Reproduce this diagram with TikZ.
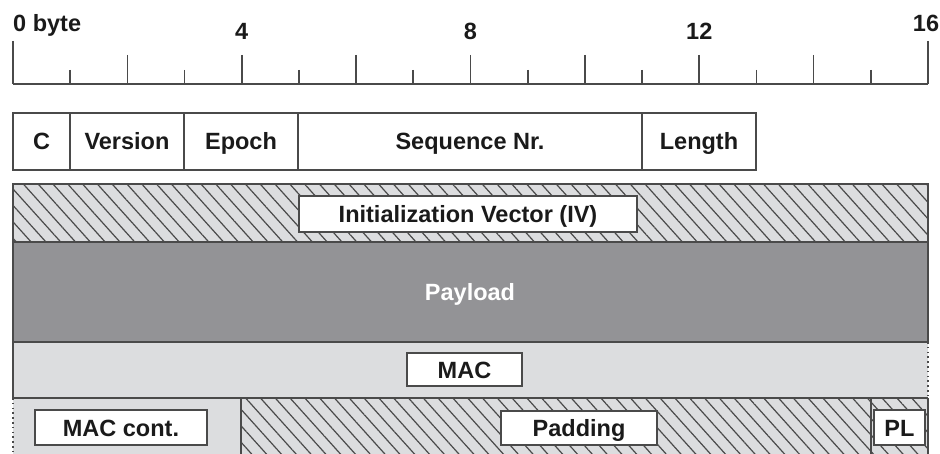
\documentclass[tikz,border=0pt]{standalone}
\usepackage{fontspec}
\setmainfont{Liberation Sans}
\usetikzlibrary{patterns.meta}
\definecolor{lg}{HTML}{DCDDDF}
\definecolor{dg}{HTML}{939396}
\definecolor{ln}{HTML}{4A4A4A}
\definecolor{tx}{HTML}{1A1A1A}
\begin{document}
\begin{tikzpicture}[x=1pt,y=-1pt,
  lab/.style={font=\fontsize{23.5}{26}\selectfont\bfseries, text=tx, inner sep=0pt},
  boxlab/.style={lab, text height=17pt, text depth=0pt},
  field/.style={boxlab, draw=ln, line width=1.7pt, fill=white, minimum height=57pt, anchor=center},
  tag/.style={boxlab, draw=ln, line width=1.7pt, fill=white, anchor=center},
  hatch/.style={preaction={fill=lg}, pattern={Lines[angle=-48,distance=11pt,line width=1.2pt]}, pattern color=ln},
  border/.style={draw=ln, line width=1.7pt},
  dotline/.style={draw=ln, line width=1.7pt, dash pattern=on 1.6pt off 3.2pt},
]
\useasboundingbox (0,0) rectangle (940,454);
\fill[white] (0,0) rectangle (940,454);

% ruler
\draw[border] (13,84) -- (928,84);
\draw[border] (13,41) -- (13,84);
\draw[border] (928,41) -- (928,84);
\foreach \i in {1,...,15} {
  \pgfmathsetmacro{\xx}{13+\i*57.1875}
  \pgfmathsetmacro{\yy}{isodd(\i) ? 70 : 55}
  \draw[border] (\xx,\yy) -- (\xx,84);
}
\node[lab, anchor=base west] (l0) at (13,32) {0 byte};
\node[lab, anchor=base] (l4) at (241.75,40) {4};
\node[lab, anchor=base] (l8) at (470.5,40) {8};
\node[lab, anchor=base] (l12) at (699.25,40) {12};
\node[lab, anchor=base] (l16) at (926,32) {16};

% header fields
\node[field, minimum width=57pt] (c) at (41.5,141.5) {C};
\node[field, minimum width=114pt] (ver) at (127,141.5) {Version};
\node[field, minimum width=114pt] (ep) at (241,141.5) {Epoch};
\node[field, minimum width=344pt] (seq) at (470,141.5) {Sequence Nr.};
\node[field, minimum width=114pt] (len) at (699,141.5) {Length};

% IV row
\fill[hatch] (13,184) rectangle (928,242);
\draw[border] (13,184) rectangle (928,242);
% payload row
\draw[border, fill=dg] (13,242) rectangle (928,342);
% MAC row
\fill[lg] (13,342) rectangle (928,398);
\draw[border] (928,342) -- (13,342) -- (13,398) -- (928,398);
\draw[dotline] (928,342) -- (928,398);
% bottom row
\fill[lg] (13,398) rectangle (241,454);
\fill[hatch] (241,398) rectangle (928,454);
\draw[border] (13,398) -- (928,398);
\draw[border] (241,398) -- (241,454);
\draw[border] (871,398) -- (871,454);
\draw[border] (928,398) -- (928,454);
\draw[dotline] (13,398) -- (13,454);

% labels
\node[tag, minimum width=338pt, minimum height=36pt] (iv) at (468,214) {Initialization Vector (IV)};
\node[boxlab, text=white] (pay) at (470,292) {Payload};
\node[tag, minimum width=115pt, minimum height=33pt] (mac) at (464.5,369.5) {MAC};
\node[tag, minimum width=172pt, minimum height=35pt] (macc) at (121,427.5) {MAC cont.};
\node[tag, minimum width=156pt, minimum height=34pt] (pad) at (579,428) {Padding};
\node[tag, minimum width=51pt, minimum height=35pt] (pl) at (899.5,427.5) {PL};
\end{tikzpicture}
\end{document}
